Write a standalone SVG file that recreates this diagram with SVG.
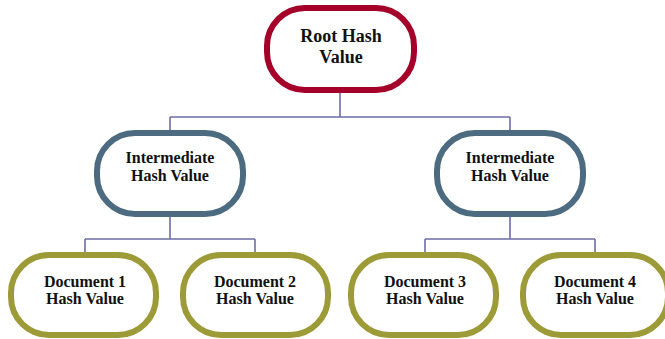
<svg xmlns="http://www.w3.org/2000/svg" width="665" height="339" viewBox="0 0 665 339">
<style>
.n{fill:#fff;stroke-width:6}
.root{stroke:#A5002A}
.mid{stroke:#4C6B80}
.doc{stroke:#9C9B38}
text{font-family:"Liberation Serif","Times New Roman",serif;font-weight:bold;fill:#111;text-anchor:middle}
.t16{font-size:16px}
.t18{font-size:18px}
.c{fill:none;stroke:#6E6EA8;stroke-width:1.6}
</style>
<rect width="665" height="339" fill="#fff"/>
<g id="connectors">
<path class="c" d="M340 92V117M170 117H510M170 117V130M510 117V130"/>
<path class="c" d="M170 217V239M85 239H255M85 239V253M255 239V253"/>
<path class="c" d="M510 217V239M425 239H595M425 239V253M595 239V253"/>
</g>
<g id="root">
<rect class="n root" x="267" y="8" width="147" height="82" rx="38"/>
<text class="t18" x="341" y="42">Root Hash</text>
<text class="t18" x="341" y="63">Value</text>
</g>
<g id="int1">
<rect class="n mid" x="97" y="133" width="146" height="81" rx="38"/>
<text class="t16" x="170" y="163">Intermediate</text>
<text class="t16" x="170" y="181">Hash Value</text>
</g>
<g id="int2">
<rect class="n mid" x="437" y="133" width="146" height="81" rx="38"/>
<text class="t16" x="510" y="163">Intermediate</text>
<text class="t16" x="510" y="181">Hash Value</text>
</g>
<g id="doc1">
<rect class="n doc" x="11" y="255" width="145" height="80" rx="38"/>
<text class="t16" x="85" y="287">Document 1</text>
<text class="t16" x="85" y="304">Hash Value</text>
</g>
<g id="doc2">
<rect class="n doc" x="183" y="255" width="145" height="80" rx="38"/>
<text class="t16" x="255" y="287">Document 2</text>
<text class="t16" x="255" y="304">Hash Value</text>
</g>
<g id="doc3">
<rect class="n doc" x="351" y="255" width="145" height="80" rx="38"/>
<text class="t16" x="425" y="287">Document 3</text>
<text class="t16" x="425" y="304">Hash Value</text>
</g>
<g id="doc4">
<rect class="n doc" x="523" y="255" width="145" height="80" rx="38"/>
<text class="t16" x="595" y="287">Document 4</text>
<text class="t16" x="595" y="304">Hash Value</text>
</g>
</svg>
